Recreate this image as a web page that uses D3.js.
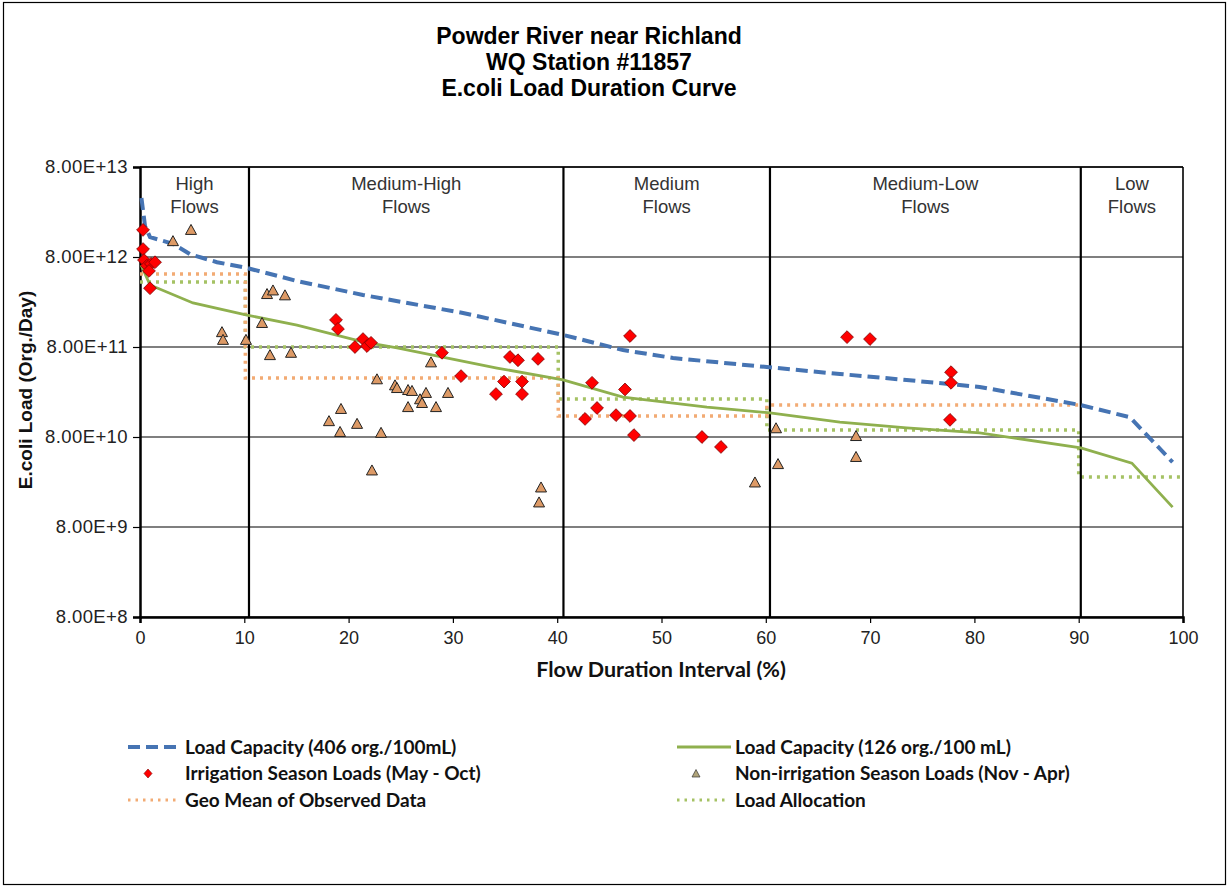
<!DOCTYPE html>
<html><head><meta charset="utf-8">
<script src="https://cdn.jsdelivr.net/npm/d3@7"></script>
<style>body{margin:0;background:#fff} svg{display:block}</style>
</head><body><svg id="c" width="1230" height="888"></svg>
<script>
const titleLines = ["Powder River near Richland", "WQ Station #11857", "E.coli Load Duration Curve"];
const xTicks = [0, 10, 20, 30, 40, 50, 60, 70, 80, 90, 100];
const yTicks = [8e8, 8e9, 8e10, 8e11, 8e12, 8e13];
const zoneBounds = [0, 10.45, 40.6, 60.4, 90.2, 100];
const zoneNames = [["High", "Flows"], ["Medium-High", "Flows"], ["Medium", "Flows"], ["Medium-Low", "Flows"], ["Low", "Flows"]];
const stepFlow = [0, 10.1, 40.1, 60.1, 90.0, 100];
const geoMean = [5.18e12, 3.62e11, 1.37e11, 1.81e11];
const loadAllocation = [4.22e12, 8.0e11, 2.11e11, 9.57e10, 2.87e10];

const capacity406Flow = [0.14, 0.48, 0.96, 3.16, 4.79, 7.38, 10.26, 15.05, 21.38, 30.97, 40.56, 46.31, 51.1, 60.1, 67.1, 73.5, 80.5, 90.2, 94.9, 99.0];
const capacity406Load = [3.62e13, 1.77e13, 1.33e13, 1.12e13, 8.6e12, 7.0e12, 6.04e12, 4.33e12, 3.03e12, 1.91e12, 1.09e12, 7.4e11, 6.04e11, 4.79e11, 4.01e11, 3.44e11, 2.88e11, 1.81e11, 1.33e11, 4.2e10];
const capacity126Flow = [0.1, 0.96, 5.08, 10.26, 15.05, 21.38, 24.64, 34.23, 40.56, 46.31, 54.36, 60.4, 67.1, 73.5, 80.5, 90.2, 95.1, 99.0];
const capacity126Load = [6.52e12, 3.91e12, 2.47e12, 1.81e12, 1.40e12, 9.1e11, 7.8e11, 4.67e11, 3.44e11, 2.22e11, 1.72e11, 1.48e11, 1.17e11, 1.01e11, 8.9e10, 6.04e10, 4.1e10, 1.33e10];

const irrigationFlow = [0.29, 0.29, 0.38, 0.67, 1.05, 1.44, 0.86, 0.96, 18.79, 18.98, 20.61, 21.38, 21.76, 22.15, 28.95, 30.78, 34.13, 34.9, 35.47, 36.24, 36.63, 36.63, 38.16, 46.98, 43.34, 46.5, 43.82, 42.67, 45.64, 46.98, 47.36, 53.88, 55.7, 67.79, 69.99, 77.76, 77.76, 77.66];
const irrigationLoad = [1.6e13, 9.8e12, 7.4e12, 6.4e12, 6.7e12, 7.0e12, 5.6e12, 3.6e12, 1.6e12, 1.27e12, 8.0e11, 9.8e11, 8.2e11, 8.9e11, 6.9e11, 3.8e11, 2.4e11, 3.3e11, 6.2e11, 5.7e11, 3.3e11, 2.4e11, 5.9e11, 1.06e12, 3.2e11, 2.7e11, 1.68e11, 1.27e11, 1.40e11, 1.37e11, 8.4e10, 8.0e10, 6.2e10, 1.03e12, 9.8e11, 4.2e11, 3.2e11, 1.24e11];
const nonIrrigationFlow = [4.89, 3.16, 7.86, 7.96, 10.16, 12.18, 12.75, 13.9, 11.7, 12.46, 14.48, 22.72, 24.45, 24.64, 25.7, 26.08, 27.42, 29.53, 27.9, 25.7, 26.85, 27.04, 28.38, 19.27, 18.12, 20.81, 19.18, 23.11, 22.24, 38.45, 38.26, 58.96, 60.98, 61.17, 68.65, 68.65];
const nonIrrigationLoad = [1.6e13, 1.2e13, 1.17e12, 9.6e11, 9.6e11, 3.1e12, 3.4e12, 3.0e12, 1.48e12, 6.5e11, 6.9e11, 3.5e11, 3.0e11, 2.8e11, 2.66e11, 2.6e11, 2.47e11, 2.47e11, 5.4e11, 1.72e11, 2.1e11, 1.91e11, 1.72e11, 1.64e11, 1.2e11, 1.12e11, 9.1e10, 8.9e10, 3.4e10, 2.2e10, 1.5e10, 2.5e10, 1.0e11, 4.0e10, 8.2e10, 4.8e10];

const legendItems = [
  {label: "Load Capacity (406 org./100mL)", type: "dash"},
  {label: "Load Capacity (126 org./100 mL)", type: "solid"},
  {label: "Irrigation Season Loads (May - Oct)", type: "diamond"},
  {label: "Non-irrigation Season Loads (Nov - Apr)", type: "triangle"},
  {label: "Geo Mean of Observed Data", type: "dotOrange"},
  {label: "Load Allocation", type: "dotGreen"}
];

const C = {blue: "#4674b3", green: "#8fb04e", orange: "#f2ab74", lagreen: "#a5c264", red: "#ff0000", tri: "#dd9a66"};
const ARIAL = "'Liberation Sans', Arial, sans-serif";
const LEG = "Lato, 'Liberation Sans', sans-serif";

const svg = d3.select("#c");
svg.append("rect").attr("x", 3.5).attr("y", 2.5).attr("width", 1222).attr("height", 882).attr("fill", "#fff").attr("stroke", "#000").attr("stroke-width", 1.2);

const x = d3.scaleLinear().domain([0, 100]).range([140, 1183]);
const y = d3.scaleLog().domain([8e8, 8e13]).range([617, 167]);

// title
svg.append("g").selectAll("text").data(titleLines).join("text")
  .attr("x", 589).attr("y", (d, i) => 43.5 + i * 26).attr("text-anchor", "middle")
  .attr("font-family", ARIAL).attr("font-weight", "bold").attr("font-size", 23).attr("fill", "#000").text(d => d);

// grid
svg.append("g").selectAll("line").data(yTicks).join("line")
  .attr("x1", x(0)).attr("x2", x(100)).attr("y1", d => y(d)).attr("y2", d => y(d))
  .attr("stroke", "#000").attr("stroke-width", 1.1);

// y axis
const yAxis = d3.axisLeft(y).tickValues(yTicks).tickFormat(d => d.toExponential(2).toUpperCase()).tickSize(7).tickPadding(5);
const ga = svg.append("g").attr("transform", `translate(${x(0)},0)`).call(yAxis);
ga.select(".domain").attr("stroke", "#000").attr("stroke-width", 2.5);
ga.selectAll(".tick line").attr("stroke", "#000").attr("stroke-width", 1.2);
ga.selectAll(".tick text").attr("font-family", ARIAL).attr("font-size", 18.5).attr("letter-spacing", 0.4).attr("fill", "#222");

// x axis
const xAxis = d3.axisBottom(x).tickValues(xTicks).tickFormat(d3.format("d")).tickSize(6).tickPadding(8);
const gx = svg.append("g").attr("transform", `translate(0,${y(8e8)})`).call(xAxis);
gx.select(".domain").attr("stroke", "#000").attr("stroke-width", 2.5);
gx.selectAll(".tick line").attr("stroke", "#000").attr("stroke-width", 1.2);
gx.selectAll(".tick text").attr("font-family", ARIAL).attr("font-size", 18).attr("fill", "#222");

// top and right frame
svg.append("line").attr("x1", x(0)).attr("x2", x(100)).attr("y1", y(8e13)).attr("y2", y(8e13)).attr("stroke", "#000").attr("stroke-width", 1.6);
svg.append("line").attr("x1", x(100)).attr("x2", x(100)).attr("y1", y(8e13)).attr("y2", y(8e8)).attr("stroke", "#000").attr("stroke-width", 1.6);

// step lines
const stepLine = d3.line().x(d => x(d[0])).y(d => y(d[1])).curve(d3.curveStepAfter);
const geoPts = geoMean.map((v, i) => [stepFlow[i], v]);
geoPts.push([stepFlow[4], geoMean[3]]);
const laPts = loadAllocation.map((v, i) => [stepFlow[i], v]);
laPts.push([stepFlow[5], loadAllocation[4]]);
svg.append("path").attr("d", stepLine(laPts)).attr("fill", "none").attr("stroke", C.lagreen).attr("stroke-width", 3.5).attr("stroke-dasharray", "3 5");
svg.append("path").attr("d", stepLine(geoPts)).attr("fill", "none").attr("stroke", C.orange).attr("stroke-width", 3.5).attr("stroke-dasharray", "3 5");

// zone boundaries
svg.append("g").selectAll("line").data(zoneBounds.slice(1, 5)).join("line")
  .attr("x1", d => x(d)).attr("x2", d => x(d)).attr("y1", y(8e13)).attr("y2", y(8e8))
  .attr("stroke", "#000").attr("stroke-width", 2.2);

// zone labels
zoneNames.forEach((lines, i) => {
  const cx = (x(zoneBounds[i]) + x(zoneBounds[i + 1])) / 2;
  svg.append("text").attr("x", cx).attr("y", 190).attr("text-anchor", "middle")
    .attr("font-family", ARIAL).attr("font-size", 18.5).attr("fill", "#333")
    .selectAll("tspan").data(lines).join("tspan").attr("x", cx).attr("dy", (d, j) => j ? 22.5 : 0).text(d => d);
});

// curves
const line = d3.line().x(d => x(d[0])).y(d => y(d[1]));
const cap126 = capacity126Flow.map((f, i) => [f, capacity126Load[i]]);
const cap406 = capacity406Flow.map((f, i) => [f, capacity406Load[i]]);
svg.append("path").attr("d", line(cap126)).attr("fill", "none").attr("stroke", C.green).attr("stroke-width", 2.8);
svg.append("path").attr("d", line(cap406)).attr("fill", "none").attr("stroke", C.blue).attr("stroke-width", 4).attr("stroke-dasharray", "12 6");

// markers
const triPath = "M0,-5.5L5.5,4.5L-5.5,4.5Z";
const diaPath = "M0,-6.4L6.4,0L0,6.4L-6.4,0Z";
svg.append("g").selectAll("path").data(nonIrrigationFlow.map((f, i) => [f, nonIrrigationLoad[i]])).join("path")
  .attr("d", triPath).attr("transform", d => `translate(${x(d[0])},${y(d[1])})`)
  .attr("fill", C.tri).attr("stroke", "#222").attr("stroke-width", 1);
svg.append("g").selectAll("path").data(irrigationFlow.map((f, i) => [f, irrigationLoad[i]])).join("path")
  .attr("d", diaPath).attr("transform", d => `translate(${x(d[0])},${y(d[1])})`)
  .attr("fill", C.red).attr("stroke", "#7a0000").attr("stroke-width", 0.8);

// axis titles
svg.append("text").attr("x", 661).attr("y", 677).attr("text-anchor", "middle")
  .attr("font-family", LEG).attr("font-weight", "bold").attr("font-size", 21.5).attr("fill", "#111").text("Flow Duration Interval (%)");
svg.append("text").attr("transform", "translate(32,390) rotate(-90)").attr("text-anchor", "middle")
  .attr("font-family", ARIAL).attr("font-weight", "bold").attr("font-size", 19).attr("fill", "#111").text("E.coli Load (Org./Day)");

// legend
const lg = svg.append("g");
legendItems.forEach((it, i) => {
  const col = i % 2, row = Math.floor(i / 2);
  const sx = col ? 677 : 128, tx = col ? 735 : 185, cy = 747 + row * 26.5;
  const g = lg.append("g");
  if (it.type === "dash") g.append("line").attr("x1", sx).attr("x2", sx + 50).attr("y1", cy).attr("y2", cy).attr("stroke", C.blue).attr("stroke-width", 4).attr("stroke-dasharray", "12 6");
  if (it.type === "solid") g.append("line").attr("x1", sx).attr("x2", sx + 54).attr("y1", cy).attr("y2", cy).attr("stroke", C.green).attr("stroke-width", 3);
  if (it.type === "dotOrange") g.append("line").attr("x1", sx).attr("x2", sx + 50).attr("y1", cy).attr("y2", cy).attr("stroke", C.orange).attr("stroke-width", 3).attr("stroke-dasharray", "2.5 5");
  if (it.type === "dotGreen") g.append("line").attr("x1", sx).attr("x2", sx + 50).attr("y1", cy).attr("y2", cy).attr("stroke", C.lagreen).attr("stroke-width", 3).attr("stroke-dasharray", "2.5 5");
  if (it.type === "diamond") g.append("path").attr("d", "M0,-4.5L4,0L0,4.5L-4,0Z").attr("transform", `translate(${sx + 20},${cy})`).attr("fill", C.red).attr("stroke", "#7a0000").attr("stroke-width", 0.6);
  if (it.type === "triangle") g.append("path").attr("d", "M0,-4L4,3.5L-4,3.5Z").attr("transform", `translate(${sx + 19},${cy})`).attr("fill", "#b0a47a").attr("stroke", "#333").attr("stroke-width", 0.7);
  g.append("text").attr("x", tx).attr("y", cy + 6.5).attr("font-family", LEG).attr("font-weight", "bold").attr("font-size", 19).attr("fill", "#111").text(it.label);
});
</script></body></html>
